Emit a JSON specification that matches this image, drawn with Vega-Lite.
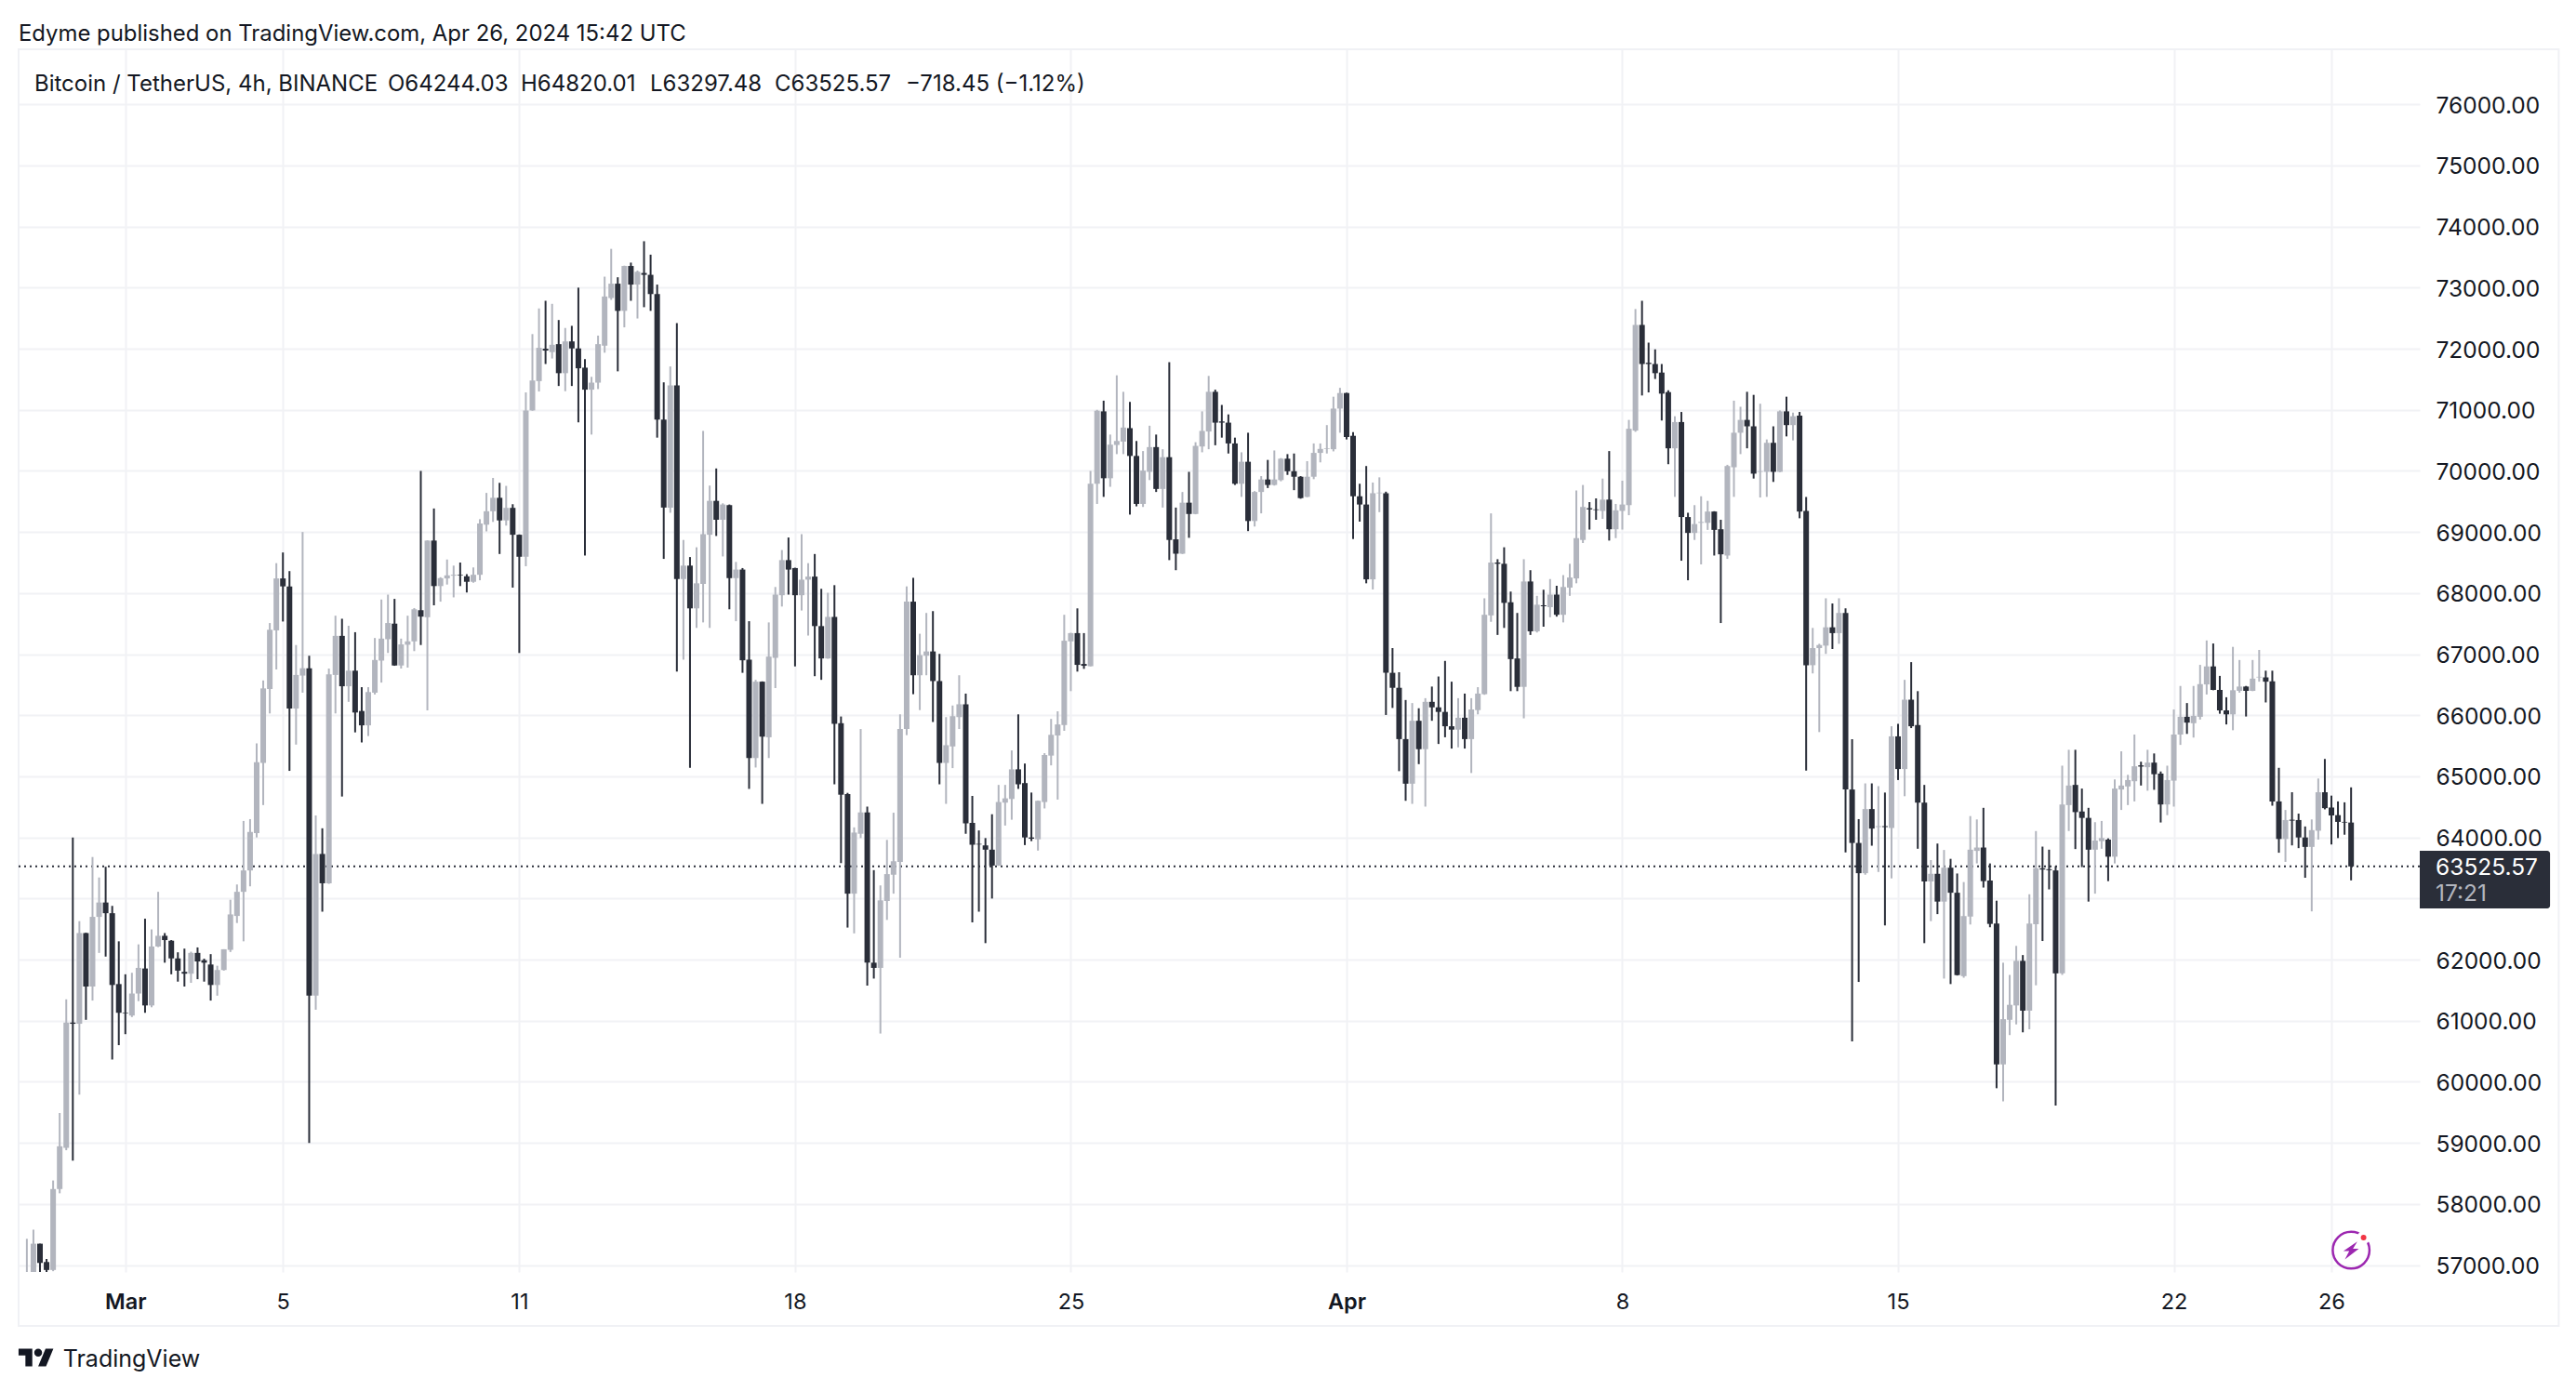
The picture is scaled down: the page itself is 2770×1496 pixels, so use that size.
{"$schema":"https://vega.github.io/schema/vega-lite/v6.json","width":2582,"height":1315,"autosize":{"type":"none"},"padding":{"left":20,"top":53,"right":168,"bottom":128},"background":"#ffffff","view":{"stroke":null},
"title":{"text":"Edyme published on TradingView.com, Apr 26, 2024 15:42 UTC","anchor":"start","frame":"group","font":"Inter","fontSize":23.9,"fontWeight":"normal","color":"#131722","offset":3},
"datasets":{"candles":[
{"t":"2024-02-27T12:00Z","o":56700,"h":57430,"l":56700,"c":56850},
{"t":"2024-02-27T16:00Z","o":56800,"h":57580,"l":56800,"c":57350},
{"t":"2024-02-27T20:00Z","o":57350,"h":57350,"l":56800,"c":57035},
{"t":"2024-02-28T00:00Z","o":57050,"h":57100,"l":56800,"c":56920},
{"t":"2024-02-28T04:00Z","o":56920,"h":58385,"l":56900,"c":58245},
{"t":"2024-02-28T08:00Z","o":58245,"h":59490,"l":58175,"c":58945},
{"t":"2024-02-28T12:00Z","o":58920,"h":61350,"l":58880,"c":60970},
{"t":"2024-02-28T16:00Z","o":60970,"h":64000,"l":58710,"c":60950},
{"t":"2024-02-28T20:00Z","o":60950,"h":62630,"l":59790,"c":62435},
{"t":"2024-02-29T00:00Z","o":62435,"h":62440,"l":61015,"c":61560},
{"t":"2024-02-29T04:00Z","o":61560,"h":63680,"l":61330,"c":62700},
{"t":"2024-02-29T08:00Z","o":62700,"h":63345,"l":62110,"c":62935},
{"t":"2024-02-29T12:00Z","o":62935,"h":63520,"l":62050,"c":62760},
{"t":"2024-02-29T16:00Z","o":62760,"h":62880,"l":60365,"c":61585},
{"t":"2024-02-29T20:00Z","o":61600,"h":62300,"l":60600,"c":61130},
{"t":"2024-03-01T00:00Z","o":61130,"h":61760,"l":60780,"c":61120},
{"t":"2024-03-01T04:00Z","o":61085,"h":61785,"l":61060,"c":61445},
{"t":"2024-03-01T08:00Z","o":61445,"h":62250,"l":61320,"c":61865},
{"t":"2024-03-01T12:00Z","o":61855,"h":62670,"l":61130,"c":61250},
{"t":"2024-03-01T16:00Z","o":61250,"h":62495,"l":61220,"c":62215},
{"t":"2024-03-01T20:00Z","o":62215,"h":63110,"l":62205,"c":62390},
{"t":"2024-03-02T00:00Z","o":62390,"h":62435,"l":61950,"c":62320},
{"t":"2024-03-02T04:00Z","o":62310,"h":62320,"l":61760,"c":62020},
{"t":"2024-03-02T08:00Z","o":62020,"h":62120,"l":61640,"c":61820},
{"t":"2024-03-02T12:00Z","o":61800,"h":62180,"l":61560,"c":61770},
{"t":"2024-03-02T16:00Z","o":61770,"h":62130,"l":61620,"c":62110},
{"t":"2024-03-02T20:00Z","o":62110,"h":62200,"l":61680,"c":61970},
{"t":"2024-03-03T00:00Z","o":61990,"h":62015,"l":61640,"c":61950},
{"t":"2024-03-03T04:00Z","o":61920,"h":62090,"l":61330,"c":61585},
{"t":"2024-03-03T08:00Z","o":61585,"h":61900,"l":61410,"c":61830},
{"t":"2024-03-03T12:00Z","o":61830,"h":62170,"l":61820,"c":62170},
{"t":"2024-03-03T16:00Z","o":62160,"h":62980,"l":62125,"c":62740},
{"t":"2024-03-03T20:00Z","o":62715,"h":63230,"l":62600,"c":63110},
{"t":"2024-03-04T00:00Z","o":63110,"h":64270,"l":62300,"c":63460},
{"t":"2024-03-04T04:00Z","o":63460,"h":64300,"l":63200,"c":64090},
{"t":"2024-03-04T08:00Z","o":64070,"h":65540,"l":64000,"c":65230},
{"t":"2024-03-04T12:00Z","o":65220,"h":66570,"l":64530,"c":66440},
{"t":"2024-03-04T16:00Z","o":66430,"h":67510,"l":66030,"c":67400},
{"t":"2024-03-04T20:00Z","o":67390,"h":68490,"l":66750,"c":68240},
{"t":"2024-03-05T00:00Z","o":68240,"h":68665,"l":67535,"c":68110},
{"t":"2024-03-05T04:00Z","o":68110,"h":68360,"l":65090,"c":66110},
{"t":"2024-03-05T08:00Z","o":66110,"h":67150,"l":65520,"c":66660},
{"t":"2024-03-05T12:00Z","o":66650,"h":69000,"l":66370,"c":66770},
{"t":"2024-03-05T16:00Z","o":66770,"h":66975,"l":59000,"c":61410},
{"t":"2024-03-05T20:00Z","o":61410,"h":64360,"l":61180,"c":63730},
{"t":"2024-03-06T00:00Z","o":63730,"h":64150,"l":62785,"c":63250},
{"t":"2024-03-06T04:00Z","o":63250,"h":66765,"l":63240,"c":66670},
{"t":"2024-03-06T08:00Z","o":66660,"h":67630,"l":66030,"c":67300},
{"t":"2024-03-06T12:00Z","o":67300,"h":67580,"l":64670,"c":66475},
{"t":"2024-03-06T16:00Z","o":66475,"h":67465,"l":66220,"c":66730},
{"t":"2024-03-06T20:00Z","o":66730,"h":67360,"l":65720,"c":66045},
{"t":"2024-03-07T00:00Z","o":66070,"h":66460,"l":65555,"c":65835},
{"t":"2024-03-07T04:00Z","o":65835,"h":66460,"l":65660,"c":66380},
{"t":"2024-03-07T08:00Z","o":66370,"h":67265,"l":66340,"c":66905},
{"t":"2024-03-07T12:00Z","o":66895,"h":67895,"l":66535,"c":67255},
{"t":"2024-03-07T16:00Z","o":67245,"h":67975,"l":67020,"c":67510},
{"t":"2024-03-07T20:00Z","o":67500,"h":67905,"l":66810,"c":66815},
{"t":"2024-03-08T00:00Z","o":66815,"h":67255,"l":66765,"c":67160},
{"t":"2024-03-08T04:00Z","o":67155,"h":67630,"l":66780,"c":67210},
{"t":"2024-03-08T08:00Z","o":67210,"h":67755,"l":67050,"c":67735},
{"t":"2024-03-08T12:00Z","o":67720,"h":70000,"l":67150,"c":67615},
{"t":"2024-03-08T16:00Z","o":67605,"h":68865,"l":66080,"c":68860},
{"t":"2024-03-08T20:00Z","o":68860,"h":69385,"l":67800,"c":68115},
{"t":"2024-03-09T00:00Z","o":68115,"h":68260,"l":67860,"c":68245},
{"t":"2024-03-09T04:00Z","o":68240,"h":68550,"l":68140,"c":68290},
{"t":"2024-03-09T08:00Z","o":68285,"h":68450,"l":67930,"c":68300},
{"t":"2024-03-09T12:00Z","o":68300,"h":68500,"l":68115,"c":68290},
{"t":"2024-03-09T16:00Z","o":68275,"h":68310,"l":68010,"c":68185},
{"t":"2024-03-09T20:00Z","o":68185,"h":68420,"l":68170,"c":68300},
{"t":"2024-03-10T00:00Z","o":68300,"h":69210,"l":68210,"c":69140},
{"t":"2024-03-10T04:00Z","o":69120,"h":69640,"l":69010,"c":69340},
{"t":"2024-03-10T08:00Z","o":69340,"h":69885,"l":69165,"c":69560},
{"t":"2024-03-10T12:00Z","o":69560,"h":69805,"l":68640,"c":69190},
{"t":"2024-03-10T16:00Z","o":69190,"h":69755,"l":69105,"c":69395},
{"t":"2024-03-10T20:00Z","o":69395,"h":69455,"l":68090,"c":68955},
{"t":"2024-03-11T00:00Z","o":68955,"h":68960,"l":67020,"c":68595},
{"t":"2024-03-11T04:00Z","o":68595,"h":71285,"l":68440,"c":70990},
{"t":"2024-03-11T08:00Z","o":70990,"h":72240,"l":70985,"c":71480},
{"t":"2024-03-11T12:00Z","o":71470,"h":72660,"l":71300,"c":72015},
{"t":"2024-03-11T16:00Z","o":72000,"h":72785,"l":71750,"c":71970},
{"t":"2024-03-11T20:00Z","o":71945,"h":72735,"l":71840,"c":72065},
{"t":"2024-03-12T00:00Z","o":72075,"h":72470,"l":71390,"c":71600},
{"t":"2024-03-12T04:00Z","o":71600,"h":72340,"l":71305,"c":72120},
{"t":"2024-03-12T08:00Z","o":72120,"h":72375,"l":71390,"c":72005},
{"t":"2024-03-12T12:00Z","o":72005,"h":73000,"l":70795,"c":71680},
{"t":"2024-03-12T16:00Z","o":71690,"h":71830,"l":68615,"c":71330},
{"t":"2024-03-12T20:00Z","o":71330,"h":71540,"l":70595,"c":71445},
{"t":"2024-03-13T00:00Z","o":71445,"h":72215,"l":71340,"c":72075},
{"t":"2024-03-13T04:00Z","o":72050,"h":73180,"l":71935,"c":72855},
{"t":"2024-03-13T08:00Z","o":72830,"h":73635,"l":72800,"c":73065},
{"t":"2024-03-13T12:00Z","o":73065,"h":73170,"l":71630,"c":72620},
{"t":"2024-03-13T16:00Z","o":72620,"h":73360,"l":72350,"c":73355},
{"t":"2024-03-13T20:00Z","o":73355,"h":73410,"l":72785,"c":73050},
{"t":"2024-03-14T00:00Z","o":73050,"h":73280,"l":72495,"c":73260},
{"t":"2024-03-14T04:00Z","o":73240,"h":73760,"l":72680,"c":73210},
{"t":"2024-03-14T08:00Z","o":73210,"h":73540,"l":72620,"c":72895},
{"t":"2024-03-14T12:00Z","o":72895,"h":73050,"l":70545,"c":70840},
{"t":"2024-03-14T16:00Z","o":70840,"h":71450,"l":68560,"c":69400},
{"t":"2024-03-14T20:00Z","o":69400,"h":71710,"l":69315,"c":71400},
{"t":"2024-03-15T00:00Z","o":71400,"h":72420,"l":66715,"c":68230},
{"t":"2024-03-15T04:00Z","o":68230,"h":68870,"l":66910,"c":68450},
{"t":"2024-03-15T08:00Z","o":68450,"h":68590,"l":65140,"c":67750},
{"t":"2024-03-15T12:00Z","o":67750,"h":68750,"l":67430,"c":68160},
{"t":"2024-03-15T16:00Z","o":68150,"h":70655,"l":67520,"c":68965},
{"t":"2024-03-15T20:00Z","o":68955,"h":69760,"l":67430,"c":69510},
{"t":"2024-03-16T00:00Z","o":69510,"h":70040,"l":68935,"c":69200},
{"t":"2024-03-16T04:00Z","o":69200,"h":69470,"l":68600,"c":69450},
{"t":"2024-03-16T08:00Z","o":69440,"h":69450,"l":67735,"c":68245},
{"t":"2024-03-16T12:00Z","o":68245,"h":68510,"l":67540,"c":68385},
{"t":"2024-03-16T16:00Z","o":68385,"h":68410,"l":66695,"c":66900},
{"t":"2024-03-16T20:00Z","o":66910,"h":67540,"l":64795,"c":65300},
{"t":"2024-03-17T00:00Z","o":65300,"h":66580,"l":65145,"c":66550},
{"t":"2024-03-17T04:00Z","o":66550,"h":66555,"l":64550,"c":65650},
{"t":"2024-03-17T08:00Z","o":65640,"h":67520,"l":65300,"c":66960},
{"t":"2024-03-17T12:00Z","o":66940,"h":68100,"l":66445,"c":67975},
{"t":"2024-03-17T16:00Z","o":67965,"h":68705,"l":67780,"c":68540},
{"t":"2024-03-17T20:00Z","o":68540,"h":68910,"l":67975,"c":68385},
{"t":"2024-03-18T00:00Z","o":68410,"h":68415,"l":66800,"c":67965},
{"t":"2024-03-18T04:00Z","o":67965,"h":68965,"l":67715,"c":68220},
{"t":"2024-03-18T08:00Z","o":68220,"h":68490,"l":67305,"c":68270},
{"t":"2024-03-18T12:00Z","o":68270,"h":68640,"l":66640,"c":67460},
{"t":"2024-03-18T16:00Z","o":67460,"h":68070,"l":66580,"c":66930},
{"t":"2024-03-18T20:00Z","o":66930,"h":68005,"l":66925,"c":67610},
{"t":"2024-03-19T00:00Z","o":67610,"h":68130,"l":64870,"c":65860},
{"t":"2024-03-19T04:00Z","o":65870,"h":65980,"l":63580,"c":64700},
{"t":"2024-03-19T08:00Z","o":64710,"h":64730,"l":62525,"c":63080},
{"t":"2024-03-19T12:00Z","o":63080,"h":64165,"l":62430,"c":64080},
{"t":"2024-03-19T16:00Z","o":64060,"h":65775,"l":63990,"c":64410},
{"t":"2024-03-19T20:00Z","o":64410,"h":64505,"l":61575,"c":61950},
{"t":"2024-03-20T00:00Z","o":61950,"h":63465,"l":61690,"c":61865},
{"t":"2024-03-20T04:00Z","o":61865,"h":63215,"l":60790,"c":62970},
{"t":"2024-03-20T08:00Z","o":62960,"h":63960,"l":62650,"c":63400},
{"t":"2024-03-20T12:00Z","o":63390,"h":64405,"l":63080,"c":63610},
{"t":"2024-03-20T16:00Z","o":63600,"h":66015,"l":62030,"c":65775},
{"t":"2024-03-20T20:00Z","o":65775,"h":68110,"l":65675,"c":67860},
{"t":"2024-03-21T00:00Z","o":67860,"h":68250,"l":66345,"c":66655},
{"t":"2024-03-21T04:00Z","o":66655,"h":67335,"l":66085,"c":66985},
{"t":"2024-03-21T08:00Z","o":66975,"h":67675,"l":66655,"c":67045},
{"t":"2024-03-21T12:00Z","o":67045,"h":67705,"l":65890,"c":66560},
{"t":"2024-03-21T16:00Z","o":66560,"h":67005,"l":64870,"c":65220},
{"t":"2024-03-21T20:00Z","o":65220,"h":65970,"l":64550,"c":65510},
{"t":"2024-03-22T00:00Z","o":65490,"h":66160,"l":65135,"c":65985},
{"t":"2024-03-22T04:00Z","o":65970,"h":66655,"l":65775,"c":66180},
{"t":"2024-03-22T08:00Z","o":66180,"h":66355,"l":64060,"c":64230},
{"t":"2024-03-22T12:00Z","o":64240,"h":64680,"l":62610,"c":63880},
{"t":"2024-03-22T16:00Z","o":63895,"h":64115,"l":62785,"c":63885},
{"t":"2024-03-22T20:00Z","o":63870,"h":63990,"l":62270,"c":63800},
{"t":"2024-03-23T00:00Z","o":63800,"h":64380,"l":63000,"c":63540},
{"t":"2024-03-23T04:00Z","o":63540,"h":64860,"l":63535,"c":64580},
{"t":"2024-03-23T08:00Z","o":64570,"h":64860,"l":64195,"c":64640},
{"t":"2024-03-23T12:00Z","o":64630,"h":65425,"l":64290,"c":65115},
{"t":"2024-03-23T16:00Z","o":65115,"h":66015,"l":64795,"c":64870},
{"t":"2024-03-23T20:00Z","o":64890,"h":65210,"l":63875,"c":64000},
{"t":"2024-03-24T00:00Z","o":64000,"h":64735,"l":63940,"c":63980},
{"t":"2024-03-24T04:00Z","o":63970,"h":64605,"l":63785,"c":64600},
{"t":"2024-03-24T08:00Z","o":64580,"h":65380,"l":64475,"c":65350},
{"t":"2024-03-24T12:00Z","o":65340,"h":65940,"l":65180,"c":65680},
{"t":"2024-03-24T16:00Z","o":65670,"h":66065,"l":64620,"c":65850},
{"t":"2024-03-24T20:00Z","o":65840,"h":67645,"l":65745,"c":67220},
{"t":"2024-03-25T00:00Z","o":67210,"h":67350,"l":66395,"c":67345},
{"t":"2024-03-25T04:00Z","o":67345,"h":67750,"l":66715,"c":66825},
{"t":"2024-03-25T08:00Z","o":66840,"h":67345,"l":66760,"c":66810},
{"t":"2024-03-25T12:00Z","o":66805,"h":70000,"l":66800,"c":69790},
{"t":"2024-03-25T16:00Z","o":69790,"h":71000,"l":69460,"c":70985},
{"t":"2024-03-25T20:00Z","o":70975,"h":71150,"l":69575,"c":69880},
{"t":"2024-03-26T00:00Z","o":69880,"h":70595,"l":69740,"c":70430},
{"t":"2024-03-26T04:00Z","o":70425,"h":71565,"l":70275,"c":70490},
{"t":"2024-03-26T08:00Z","o":70480,"h":71295,"l":70275,"c":70710},
{"t":"2024-03-26T12:00Z","o":70700,"h":71130,"l":69285,"c":70245},
{"t":"2024-03-26T16:00Z","o":70245,"h":70490,"l":69420,"c":69460},
{"t":"2024-03-26T20:00Z","o":69460,"h":70325,"l":69410,"c":70005},
{"t":"2024-03-27T00:00Z","o":69985,"h":70740,"l":69850,"c":70390},
{"t":"2024-03-27T04:00Z","o":70390,"h":70595,"l":69655,"c":69705},
{"t":"2024-03-27T08:00Z","o":69705,"h":70355,"l":69400,"c":70225},
{"t":"2024-03-27T12:00Z","o":70225,"h":71780,"l":68540,"c":68870},
{"t":"2024-03-27T16:00Z","o":68880,"h":69400,"l":68375,"c":68645},
{"t":"2024-03-27T20:00Z","o":68645,"h":69655,"l":68640,"c":69480},
{"t":"2024-03-28T00:00Z","o":69480,"h":69985,"l":68905,"c":69295},
{"t":"2024-03-28T04:00Z","o":69295,"h":70470,"l":69290,"c":70410},
{"t":"2024-03-28T08:00Z","o":70400,"h":70975,"l":70305,"c":70655},
{"t":"2024-03-28T12:00Z","o":70645,"h":71555,"l":70355,"c":71295},
{"t":"2024-03-28T16:00Z","o":71295,"h":71330,"l":70420,"c":70790},
{"t":"2024-03-28T20:00Z","o":70810,"h":71080,"l":70545,"c":70790},
{"t":"2024-03-29T00:00Z","o":70790,"h":70925,"l":70285,"c":70450},
{"t":"2024-03-29T04:00Z","o":70450,"h":70545,"l":69770,"c":69790},
{"t":"2024-03-29T08:00Z","o":69790,"h":70305,"l":69575,"c":70150},
{"t":"2024-03-29T12:00Z","o":70150,"h":70625,"l":69015,"c":69180},
{"t":"2024-03-29T16:00Z","o":69180,"h":69670,"l":69090,"c":69655},
{"t":"2024-03-29T20:00Z","o":69655,"h":69915,"l":69305,"c":69860},
{"t":"2024-03-30T00:00Z","o":69860,"h":70180,"l":69720,"c":69770},
{"t":"2024-03-30T04:00Z","o":69770,"h":70335,"l":69760,"c":69860},
{"t":"2024-03-30T08:00Z","o":69850,"h":70210,"l":69830,"c":70200},
{"t":"2024-03-30T12:00Z","o":70200,"h":70275,"l":69935,"c":69995},
{"t":"2024-03-30T16:00Z","o":69995,"h":70285,"l":69685,"c":69905},
{"t":"2024-03-30T20:00Z","o":69905,"h":69915,"l":69545,"c":69555},
{"t":"2024-03-31T00:00Z","o":69575,"h":70160,"l":69570,"c":69905},
{"t":"2024-03-31T04:00Z","o":69905,"h":70450,"l":69865,"c":70295},
{"t":"2024-03-31T08:00Z","o":70295,"h":70450,"l":70140,"c":70360},
{"t":"2024-03-31T12:00Z","o":70360,"h":70750,"l":70285,"c":70370},
{"t":"2024-03-31T16:00Z","o":70355,"h":71215,"l":70320,"c":71020},
{"t":"2024-03-31T20:00Z","o":71020,"h":71360,"l":70625,"c":71275},
{"t":"2024-04-01T00:00Z","o":71275,"h":71280,"l":70515,"c":70555},
{"t":"2024-04-01T04:00Z","o":70575,"h":70635,"l":68885,"c":69585},
{"t":"2024-04-01T08:00Z","o":69585,"h":69790,"l":69170,"c":69450},
{"t":"2024-04-01T12:00Z","o":69450,"h":70080,"l":68160,"c":68225},
{"t":"2024-04-01T16:00Z","o":68225,"h":69810,"l":68060,"c":69635},
{"t":"2024-04-01T20:00Z","o":69635,"h":69895,"l":69325,"c":69645},
{"t":"2024-04-02T00:00Z","o":69635,"h":69660,"l":66005,"c":66695},
{"t":"2024-04-02T04:00Z","o":66695,"h":67100,"l":66120,"c":66450},
{"t":"2024-04-02T08:00Z","o":66450,"h":66705,"l":65085,"c":65610},
{"t":"2024-04-02T12:00Z","o":65610,"h":66250,"l":64600,"c":64880},
{"t":"2024-04-02T16:00Z","o":64880,"h":66200,"l":64550,"c":65910},
{"t":"2024-04-02T20:00Z","o":65910,"h":66115,"l":65200,"c":65445},
{"t":"2024-04-03T00:00Z","o":65445,"h":66280,"l":64505,"c":66220},
{"t":"2024-04-03T04:00Z","o":66220,"h":66470,"l":65910,"c":66130},
{"t":"2024-04-03T08:00Z","o":66130,"h":66635,"l":65530,"c":66055},
{"t":"2024-04-03T12:00Z","o":66055,"h":66890,"l":65640,"c":65820},
{"t":"2024-04-03T16:00Z","o":65820,"h":66550,"l":65455,"c":65765},
{"t":"2024-04-03T20:00Z","o":65765,"h":66280,"l":65475,"c":65960},
{"t":"2024-04-04T00:00Z","o":65960,"h":66355,"l":65455,"c":65610},
{"t":"2024-04-04T04:00Z","o":65610,"h":66280,"l":65055,"c":66095},
{"t":"2024-04-04T08:00Z","o":66085,"h":66460,"l":66015,"c":66355},
{"t":"2024-04-04T12:00Z","o":66345,"h":67915,"l":66335,"c":67645},
{"t":"2024-04-04T16:00Z","o":67635,"h":69305,"l":67530,"c":68500},
{"t":"2024-04-04T20:00Z","o":68500,"h":68555,"l":67315,"c":68480},
{"t":"2024-04-05T00:00Z","o":68480,"h":68750,"l":67430,"c":67840},
{"t":"2024-04-05T04:00Z","o":67850,"h":68025,"l":66395,"c":66920},
{"t":"2024-04-05T08:00Z","o":66930,"h":67675,"l":66395,"c":66465},
{"t":"2024-04-05T12:00Z","o":66465,"h":68555,"l":65950,"c":68190},
{"t":"2024-04-05T16:00Z","o":68190,"h":68375,"l":67315,"c":67375},
{"t":"2024-04-05T20:00Z","o":67375,"h":67955,"l":67355,"c":67810},
{"t":"2024-04-06T00:00Z","o":67800,"h":68055,"l":67450,"c":67785},
{"t":"2024-04-06T04:00Z","o":67770,"h":68230,"l":67605,"c":67975},
{"t":"2024-04-06T08:00Z","o":67975,"h":68120,"l":67615,"c":67645},
{"t":"2024-04-06T12:00Z","o":67645,"h":68295,"l":67520,"c":68100},
{"t":"2024-04-06T16:00Z","o":68090,"h":68480,"l":67955,"c":68255},
{"t":"2024-04-06T20:00Z","o":68240,"h":69680,"l":68160,"c":68900},
{"t":"2024-04-07T00:00Z","o":68870,"h":69770,"l":68820,"c":69410},
{"t":"2024-04-07T04:00Z","o":69390,"h":69490,"l":69040,"c":69370},
{"t":"2024-04-07T08:00Z","o":69370,"h":69550,"l":69200,"c":69360},
{"t":"2024-04-07T12:00Z","o":69345,"h":69875,"l":69215,"c":69530},
{"t":"2024-04-07T16:00Z","o":69530,"h":70325,"l":68860,"c":69045},
{"t":"2024-04-07T20:00Z","o":69045,"h":69460,"l":68900,"c":69355},
{"t":"2024-04-08T00:00Z","o":69345,"h":69840,"l":69040,"c":69450},
{"t":"2024-04-08T04:00Z","o":69440,"h":70835,"l":69275,"c":70690},
{"t":"2024-04-08T08:00Z","o":70660,"h":72650,"l":70640,"c":72390},
{"t":"2024-04-08T12:00Z","o":72390,"h":72785,"l":71235,"c":71750},
{"t":"2024-04-08T16:00Z","o":71770,"h":72100,"l":71285,"c":71750},
{"t":"2024-04-08T20:00Z","o":71750,"h":71990,"l":71505,"c":71600},
{"t":"2024-04-09T00:00Z","o":71610,"h":71750,"l":70825,"c":71265},
{"t":"2024-04-09T04:00Z","o":71290,"h":71320,"l":70110,"c":70370},
{"t":"2024-04-09T08:00Z","o":70370,"h":70895,"l":69575,"c":70800},
{"t":"2024-04-09T12:00Z","o":70800,"h":70965,"l":68530,"c":69245},
{"t":"2024-04-09T16:00Z","o":69245,"h":69315,"l":68210,"c":68985},
{"t":"2024-04-09T20:00Z","o":68985,"h":69440,"l":68870,"c":69130},
{"t":"2024-04-10T00:00Z","o":69150,"h":69585,"l":68470,"c":69165},
{"t":"2024-04-10T04:00Z","o":69150,"h":69510,"l":69035,"c":69335},
{"t":"2024-04-10T08:00Z","o":69335,"h":69340,"l":68615,"c":69035},
{"t":"2024-04-10T12:00Z","o":69045,"h":69200,"l":67510,"c":68635},
{"t":"2024-04-10T16:00Z","o":68615,"h":70100,"l":68560,"c":70080},
{"t":"2024-04-10T20:00Z","o":70060,"h":71150,"l":69575,"c":70625},
{"t":"2024-04-11T00:00Z","o":70625,"h":71050,"l":70275,"c":70835},
{"t":"2024-04-11T04:00Z","o":70835,"h":71295,"l":70370,"c":70730},
{"t":"2024-04-11T08:00Z","o":70730,"h":71245,"l":69875,"c":69955},
{"t":"2024-04-11T12:00Z","o":69985,"h":71100,"l":69565,"c":69995},
{"t":"2024-04-11T16:00Z","o":69985,"h":70515,"l":69575,"c":70460},
{"t":"2024-04-11T20:00Z","o":70460,"h":70730,"l":69820,"c":69985},
{"t":"2024-04-12T00:00Z","o":69985,"h":70990,"l":69980,"c":70975},
{"t":"2024-04-12T04:00Z","o":70975,"h":71215,"l":70565,"c":70750},
{"t":"2024-04-12T08:00Z","o":70750,"h":70955,"l":70500,"c":70895},
{"t":"2024-04-12T12:00Z","o":70905,"h":70965,"l":69225,"c":69335},
{"t":"2024-04-12T16:00Z","o":69345,"h":69575,"l":65095,"c":66820},
{"t":"2024-04-12T20:00Z","o":66820,"h":67430,"l":66685,"c":67100},
{"t":"2024-04-13T00:00Z","o":67100,"h":67170,"l":65725,"c":67150},
{"t":"2024-04-13T04:00Z","o":67140,"h":67915,"l":67005,"c":67440},
{"t":"2024-04-13T08:00Z","o":67440,"h":67830,"l":67085,"c":67345},
{"t":"2024-04-13T12:00Z","o":67345,"h":67915,"l":67170,"c":67675},
{"t":"2024-04-13T16:00Z","o":67675,"h":67750,"l":63755,"c":64785},
{"t":"2024-04-13T20:00Z","o":64785,"h":65610,"l":60660,"c":63910},
{"t":"2024-04-14T00:00Z","o":63910,"h":64300,"l":61635,"c":63415},
{"t":"2024-04-14T04:00Z","o":63415,"h":64885,"l":63390,"c":64465},
{"t":"2024-04-14T08:00Z","o":64465,"h":64885,"l":63865,"c":64145},
{"t":"2024-04-14T12:00Z","o":64170,"h":64840,"l":63435,"c":64185},
{"t":"2024-04-14T16:00Z","o":64185,"h":64735,"l":62560,"c":64170},
{"t":"2024-04-14T20:00Z","o":64155,"h":65820,"l":63330,"c":65655},
{"t":"2024-04-15T00:00Z","o":65655,"h":65860,"l":64940,"c":65120},
{"t":"2024-04-15T04:00Z","o":65120,"h":66580,"l":64675,"c":66255},
{"t":"2024-04-15T08:00Z","o":66255,"h":66870,"l":65790,"c":65820},
{"t":"2024-04-15T12:00Z","o":65840,"h":66395,"l":63815,"c":64570},
{"t":"2024-04-15T16:00Z","o":64570,"h":64860,"l":62270,"c":63280},
{"t":"2024-04-15T20:00Z","o":63280,"h":63630,"l":62630,"c":63405},
{"t":"2024-04-16T00:00Z","o":63405,"h":63900,"l":62745,"c":62950},
{"t":"2024-04-16T04:00Z","o":62950,"h":63795,"l":61690,"c":63505},
{"t":"2024-04-16T08:00Z","o":63505,"h":63650,"l":61600,"c":63095},
{"t":"2024-04-16T12:00Z","o":63095,"h":63410,"l":61740,"c":61747},
{"t":"2024-04-16T16:00Z","o":61730,"h":63270,"l":61704,"c":62713},
{"t":"2024-04-16T20:00Z","o":62705,"h":64350,"l":62575,"c":63800},
{"t":"2024-04-17T00:00Z","o":63780,"h":64295,"l":63575,"c":63835},
{"t":"2024-04-17T04:00Z","o":63835,"h":64485,"l":63180,"c":63285},
{"t":"2024-04-17T08:00Z","o":63295,"h":63575,"l":62530,"c":62585},
{"t":"2024-04-17T12:00Z","o":62590,"h":62965,"l":59895,"c":60285},
{"t":"2024-04-17T16:00Z","o":60285,"h":61950,"l":59680,"c":61025},
{"t":"2024-04-17T20:00Z","o":61015,"h":61750,"l":60765,"c":61260},
{"t":"2024-04-18T00:00Z","o":61250,"h":62225,"l":60940,"c":61980},
{"t":"2024-04-18T04:00Z","o":61980,"h":62075,"l":60810,"c":61165},
{"t":"2024-04-18T08:00Z","o":61165,"h":63070,"l":60860,"c":62590},
{"t":"2024-04-18T12:00Z","o":62580,"h":64105,"l":61580,"c":63495},
{"t":"2024-04-18T16:00Z","o":63495,"h":63850,"l":62305,"c":63475},
{"t":"2024-04-18T20:00Z","o":63480,"h":63800,"l":63150,"c":63465},
{"t":"2024-04-19T00:00Z","o":63460,"h":63530,"l":59610,"c":61775},
{"t":"2024-04-19T04:00Z","o":61775,"h":65175,"l":61750,"c":64540},
{"t":"2024-04-19T08:00Z","o":64530,"h":65435,"l":64105,"c":64850},
{"t":"2024-04-19T12:00Z","o":64860,"h":65435,"l":63810,"c":64415},
{"t":"2024-04-19T16:00Z","o":64425,"h":64800,"l":63515,"c":64320},
{"t":"2024-04-19T20:00Z","o":64320,"h":64485,"l":62950,"c":63800},
{"t":"2024-04-20T00:00Z","o":63800,"h":64250,"l":63080,"c":63950},
{"t":"2024-04-20T04:00Z","o":63940,"h":64270,"l":63815,"c":63990},
{"t":"2024-04-20T08:00Z","o":63965,"h":63985,"l":63285,"c":63685},
{"t":"2024-04-20T12:00Z","o":63685,"h":64950,"l":63575,"c":64800},
{"t":"2024-04-20T16:00Z","o":64785,"h":65410,"l":64450,"c":64850},
{"t":"2024-04-20T20:00Z","o":64835,"h":65025,"l":64530,"c":64940},
{"t":"2024-04-21T00:00Z","o":64920,"h":65685,"l":64590,"c":65165},
{"t":"2024-04-21T04:00Z","o":65180,"h":65240,"l":64850,"c":65160},
{"t":"2024-04-21T08:00Z","o":65150,"h":65435,"l":64765,"c":65225},
{"t":"2024-04-21T12:00Z","o":65225,"h":65375,"l":64780,"c":65035},
{"t":"2024-04-21T16:00Z","o":65045,"h":65080,"l":64245,"c":64540},
{"t":"2024-04-21T20:00Z","o":64540,"h":65175,"l":64365,"c":64940},
{"t":"2024-04-22T00:00Z","o":64930,"h":66095,"l":64505,"c":65685},
{"t":"2024-04-22T04:00Z","o":65685,"h":66480,"l":65515,"c":65975},
{"t":"2024-04-22T08:00Z","o":65975,"h":66200,"l":65695,"c":65880},
{"t":"2024-04-22T12:00Z","o":65870,"h":66480,"l":65635,"c":65990},
{"t":"2024-04-22T16:00Z","o":65975,"h":66825,"l":65930,"c":66510},
{"t":"2024-04-22T20:00Z","o":66505,"h":67225,"l":66340,"c":66800},
{"t":"2024-04-23T00:00Z","o":66800,"h":67175,"l":66410,"c":66415},
{"t":"2024-04-23T04:00Z","o":66415,"h":66645,"l":66025,"c":66080},
{"t":"2024-04-23T08:00Z","o":66080,"h":66295,"l":65850,"c":66015},
{"t":"2024-04-23T12:00Z","o":66015,"h":67120,"l":65755,"c":66410},
{"t":"2024-04-23T16:00Z","o":66400,"h":66905,"l":66370,"c":66470},
{"t":"2024-04-23T20:00Z","o":66470,"h":66480,"l":65980,"c":66400},
{"t":"2024-04-24T00:00Z","o":66400,"h":66905,"l":66395,"c":66600},
{"t":"2024-04-24T04:00Z","o":66620,"h":67070,"l":66550,"c":66630},
{"t":"2024-04-24T08:00Z","o":66620,"h":66730,"l":66210,"c":66550},
{"t":"2024-04-24T12:00Z","o":66555,"h":66730,"l":64520,"c":64590},
{"t":"2024-04-24T16:00Z","o":64590,"h":65140,"l":63750,"c":63975},
{"t":"2024-04-24T20:00Z","o":63975,"h":64450,"l":63600,"c":64285},
{"t":"2024-04-25T00:00Z","o":64290,"h":64740,"l":63870,"c":64275},
{"t":"2024-04-25T04:00Z","o":64285,"h":64390,"l":63825,"c":64000},
{"t":"2024-04-25T08:00Z","o":64000,"h":64180,"l":63340,"c":63845},
{"t":"2024-04-25T12:00Z","o":63845,"h":64295,"l":62790,"c":64120},
{"t":"2024-04-25T16:00Z","o":64110,"h":64965,"l":63965,"c":64740},
{"t":"2024-04-25T20:00Z","o":64740,"h":65285,"l":64460,"c":64480},
{"t":"2024-04-26T00:00Z","o":64490,"h":64685,"l":63885,"c":64360},
{"t":"2024-04-26T04:00Z","o":64365,"h":64590,"l":63990,"c":64255},
{"t":"2024-04-26T08:00Z","o":64255,"h":64575,"l":64045,"c":64244},
{"t":"2024-04-26T12:00Z","o":64244.03,"h":64820.01,"l":63297.48,"c":63525.57}
]},
"layer":[
{"data":{"values":[{"t":"2024-02-27T06:58Z","t2":"2024-05-01T18:29Z","p":76902,"p2":56005}]},
"mark":{"type":"rect","fill":"#ffffff","fillOpacity":0,"stroke":"#f0f1f5","strokeWidth":2},
"encoding":{"x":{"field":"t","type":"temporal","title":null,"scale":{"type":"utc","padding":0,"domain":[{"year":2024,"month":2,"date":27,"hours":6,"minutes":58,"utc":true},{"year":2024,"month":4,"date":28,"hours":5,"minutes":50,"utc":true}]},
"axis":{"orient":"bottom","grid":true,"gridColor":"#f1f2f5","gridWidth":2,"domain":false,"ticks":false,"labelPadding":20,"labelFont":"Inter","labelFontSize":23.5,"labelColor":"#131722","labelFontWeight":{"condition":{"test":"utcdate(datum.value)==1","value":600},"value":"normal"},"labelExpr":"utcdate(datum.value)==1 ? (utcmonth(datum.value)==2 ? 'Mar' : 'Apr') : utcdate(datum.value)","labelOverlap":false,"values":[{"year":2024,"month":3,"date":1,"utc":true},{"year":2024,"month":3,"date":5,"utc":true},{"year":2024,"month":3,"date":11,"utc":true},{"year":2024,"month":3,"date":18,"utc":true},{"year":2024,"month":3,"date":25,"utc":true},{"year":2024,"month":4,"date":1,"utc":true},{"year":2024,"month":4,"date":8,"utc":true},{"year":2024,"month":4,"date":15,"utc":true},{"year":2024,"month":4,"date":22,"utc":true},{"year":2024,"month":4,"date":26,"utc":true}]}},
"x2":{"field":"t2"},
"y":{"field":"p","type":"quantitative","title":null,"scale":{"domain":[56887,76902],"nice":false,"zero":false,"padding":0},
"axis":{"orient":"right","grid":true,"gridColor":"#f1f2f5","gridWidth":2,"domain":false,"ticks":false,"labelPadding":17,"labelOffset":2,"labelFont":"Inter","labelFontSize":24.5,"labelColor":"#131722","labelExpr":"datum.value==63000 ? '' : format(datum.value,'.2f')","labelOverlap":false,"values":[57000,58000,59000,60000,61000,62000,63000,64000,65000,66000,67000,68000,69000,70000,71000,72000,73000,74000,75000,76000]}},
"y2":{"field":"p2"}}},
{"data":{"values":[{"p":63525.57}]},"mark":{"type":"rule","color":"#2a2e39","strokeWidth":2,"strokeDash":[2,4]},"encoding":{"y":{"field":"p","type":"quantitative"}}},
{"data":{"name":"candles"},"mark":{"type":"rule","strokeWidth":2,"clip":true},"encoding":{"x":{"field":"t","type":"temporal"},"y":{"field":"l","type":"quantitative"},"y2":{"field":"h"},"color":{"condition":{"test":"datum.c>=datum.o","value":"#b2b5be"},"value":"#2a2e39"}}},
{"data":{"name":"candles"},"mark":{"type":"bar","size":6,"clip":true},"encoding":{"x":{"field":"t","type":"temporal"},"y":{"field":"o","type":"quantitative"},"y2":{"field":"c"},"color":{"condition":{"test":"datum.c>=datum.o","value":"#b2b5be"},"value":"#2a2e39"}}},
{"data":{"values":[{"t":"2024-04-28T05:50Z","t2":"2024-05-01T13:12Z","p":63782,"p2":62838}]},"mark":{"type":"rect","fill":"#2a2e39","cornerRadiusTopRight":3,"cornerRadiusBottomRight":3},"encoding":{"x":{"field":"t","type":"temporal"},"x2":{"field":"t2"},"y":{"field":"p","type":"quantitative"},"y2":{"field":"p2"}}},
{"data":{"values":[{"t":"2024-04-28T15:30Z","p":63525.57,"s":"63525.57","k":"a"},{"t":"2024-04-28T15:30Z","p":63097,"s":"17:21","k":"b"}]},"mark":{"type":"text","align":"left","baseline":"middle","font":"Inter","fontSize":24.5,"dy":2},"encoding":{"x":{"field":"t","type":"temporal"},"y":{"field":"p","type":"quantitative"},"text":{"field":"s"},"color":{"condition":{"test":"datum.k=='a'","value":"#ffffff"},"value":"#b2b5be"}}},
{"data":{"values":[{"t":"2024-02-27T16:35Z","p":76370,"s":"Bitcoin / TetherUS, 4h, BINANCE"},{"t":"2024-03-07T15:53Z","p":76370,"s":"O64244.03"},{"t":"2024-03-11T00:55Z","p":76370,"s":"H64820.01"},{"t":"2024-03-14T07:41Z","p":76370,"s":"L63297.48"},{"t":"2024-03-17T11:36Z","p":76370,"s":"C63525.57"},{"t":"2024-03-20T19:29Z","p":76370,"s":"−718.45 (−1.12%)"}]},"mark":{"type":"text","align":"left","baseline":"middle","font":"Inter","fontSize":24,"color":"#131722","dy":3},"encoding":{"x":{"field":"t","type":"temporal"},"y":{"field":"p","type":"quantitative"},"text":{"field":"s"}}},
{"data":{"values":[{"t":"2024-02-28T10:00Z","p":55472,"s":"TradingView"}]},"mark":{"type":"text","align":"left","baseline":"middle","font":"Inter","fontSize":25,"fontWeight":400,"color":"#131722","dy":1},"encoding":{"x":{"field":"t","type":"temporal"},"y":{"field":"p","type":"quantitative"},"text":{"field":"s"}}},
{"data":{"values":[{"t":"2024-02-27T17:42Z","p":55487}]},"mark":{"type":"point","filled":true,"opacity":1,"color":"#131722","size":1444,"shape":"M-0.222 0.5H-0.611V-0.111H-1V-0.5H-0.222ZM0.556 0.5H0.111L0.528 -0.5H0.972ZM-0.111 -0.278a0.222 0.222 0 1 0 0.444 0a0.222 0.222 0 1 0 -0.444 0Z"},"encoding":{"x":{"field":"t","type":"temporal"},"y":{"field":"p","type":"quantitative"}}},
{"data":{"values":[{"t":"2024-04-26T12:00Z","p":57243}]},"mark":{"type":"point","shape":"circle","filled":false,"opacity":1,"stroke":"#9c27b0","strokeWidth":2.5,"size":1560},"encoding":{"x":{"field":"t","type":"temporal"},"y":{"field":"p","type":"quantitative"}}},
{"data":{"values":[{"t":"2024-04-26T12:00Z","p":57243}]},"mark":{"type":"point","filled":true,"opacity":1,"color":"#9c27b0","size":400,"shape":"M0.67 -0.93L-0.83 0.1H-0.2L-0.67 1L0.83 -0.17H0.2Z"},"encoding":{"x":{"field":"t","type":"temporal"},"y":{"field":"p","type":"quantitative"}}},
{"data":{"values":[{"t":"2024-04-26T19:36Z","p":57450}]},"mark":{"type":"point","shape":"circle","filled":true,"opacity":1,"fill":"#f23645","stroke":"#ffffff","strokeWidth":4,"size":100},"encoding":{"x":{"field":"t","type":"temporal"},"y":{"field":"p","type":"quantitative"}}}
]}
